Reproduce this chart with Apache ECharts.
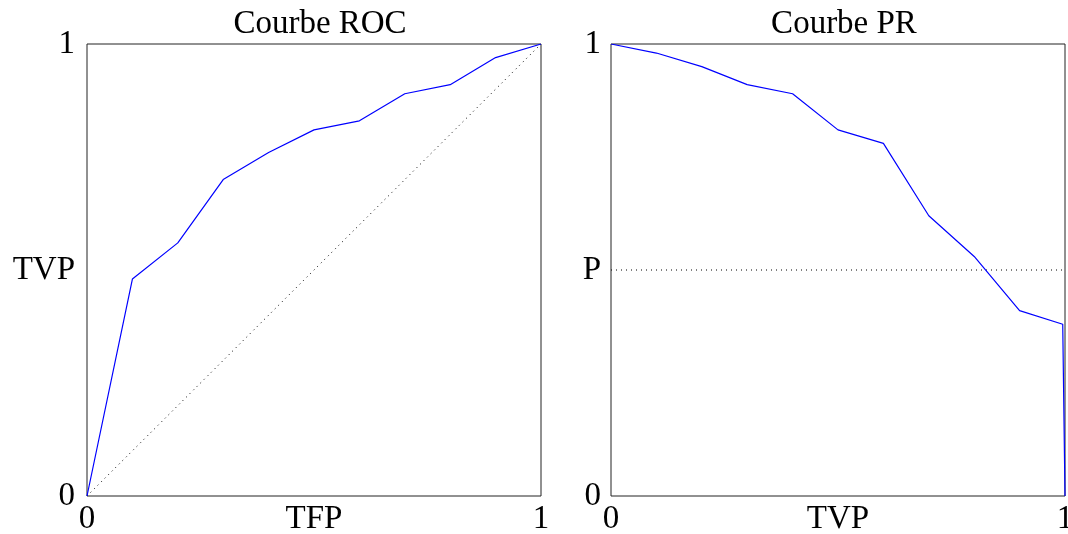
<!DOCTYPE html>
<html>
<head>
<meta charset="utf-8">
<script src="https://cdn.jsdelivr.net/npm/echarts@6/dist/echarts.min.js"></script>
<style>html,body{margin:0;padding:0;background:#fff}#c{width:1068px;height:534px}</style>
</head>
<body>
<div id="c"></div>
<script>
// ROC curve (TFP, TVP)
const rocX = [0, 0.1, 0.2, 0.3, 0.4, 0.5, 0.6, 0.7, 0.8, 0.9, 1];
const rocY = [0, 0.48, 0.56, 0.70, 0.76, 0.81, 0.83, 0.89, 0.91, 0.97, 1];
// PR curve (TVP, P)
const prX = [0, 0.1, 0.2, 0.3, 0.4, 0.5, 0.6, 0.7, 0.8, 0.9, 0.995, 1];
const prY = [1, 0.98, 0.95, 0.91, 0.89, 0.81, 0.78, 0.62, 0.53, 0.41, 0.38, 0];
// reference lines
const diagX = [0, 1];
const diagY = [0, 1];
const baseX = [0, 1];
const baseY = [0.5, 0.5];
// tick labels
const rocXTicks = ['0', 'TFP', '1'];
const rocYTicks = ['0', 'TVP', '1'];
const prXTicks = ['0', 'TVP', '1'];
const prYTicks = ['0', 'P', '1'];
const titles = ['Courbe ROC', 'Courbe PR'];

const FONT = 'Liberation Serif';
const FS = 33;
const pairs = (xs, ys) => xs.map((x, i) => [x, ys[i]]);
const tickFmt = arr => v => {
  const i = Math.round(v * 2);
  return arr[i] !== undefined ? arr[i] : '';
};
const xAxis = (gi, ticks) => ({
  type: 'value', gridIndex: gi, min: 0, max: 1, interval: 0.5,
  axisLine: {show: false}, axisTick: {show: false}, splitLine: {show: false},
  axisLabel: {formatter: tickFmt(ticks), color: '#000', fontFamily: FONT, fontSize: FS, margin: 7, showMinLabel: true, showMaxLabel: true, hideOverlap: false}
});
const yAxis = (gi, ticks, margin) => ({
  type: 'value', gridIndex: gi, min: 0, max: 1, interval: 0.5,
  axisLine: {show: false}, axisTick: {show: false}, splitLine: {show: false},
  axisLabel: {formatter: tickFmt(ticks), color: '#000', fontFamily: FONT, fontSize: FS, margin: margin, showMinLabel: true, showMaxLabel: true, hideOverlap: false}
});
const blue = {color: '#0000ff', width: 1.2};
const dot = {color: '#000', width: 1, type: [1, 4]};
const line = (xi, data, style) => ({
  type: 'line', xAxisIndex: xi, yAxisIndex: xi, data: data, showSymbol: false,
  symbol: 'none', lineStyle: style, silent: true, z: style === dot ? 1 : 2
});

const chart = echarts.init(document.getElementById('c'), null, {renderer: 'canvas'});
chart.setOption({
  animation: false,
  backgroundColor: '#fff',
  title: [
    {text: titles[0], left: 315, top: 3, textAlign: 'center', textStyle: {fontFamily: FONT, fontSize: FS, fontWeight: 'normal', color: '#000'}},
    {text: titles[1], left: 839, top: 3, textAlign: 'center', textStyle: {fontFamily: FONT, fontSize: FS, fontWeight: 'normal', color: '#000'}}
  ],
  grid: [
    {left: 87, top: 44, width: 454, height: 452, show: true, borderColor: '#222', borderWidth: 1, backgroundColor: 'transparent', containLabel: false, outerBoundsMode: 'none'},
    {left: 611, top: 44, width: 454, height: 452, show: true, borderColor: '#222', borderWidth: 1, backgroundColor: 'transparent', containLabel: false, outerBoundsMode: 'none'}
  ],
  xAxis: [xAxis(0, rocXTicks), xAxis(1, prXTicks)],
  yAxis: [yAxis(0, rocYTicks, 12), yAxis(1, prYTicks, 10)],
  series: [
    line(0, pairs(diagX, diagY), dot),
    line(0, pairs(rocX, rocY), blue),
    line(1, pairs(baseX, baseY), dot),
    line(1, pairs(prX, prY), blue)
  ]
});
</script>
</body>
</html>
